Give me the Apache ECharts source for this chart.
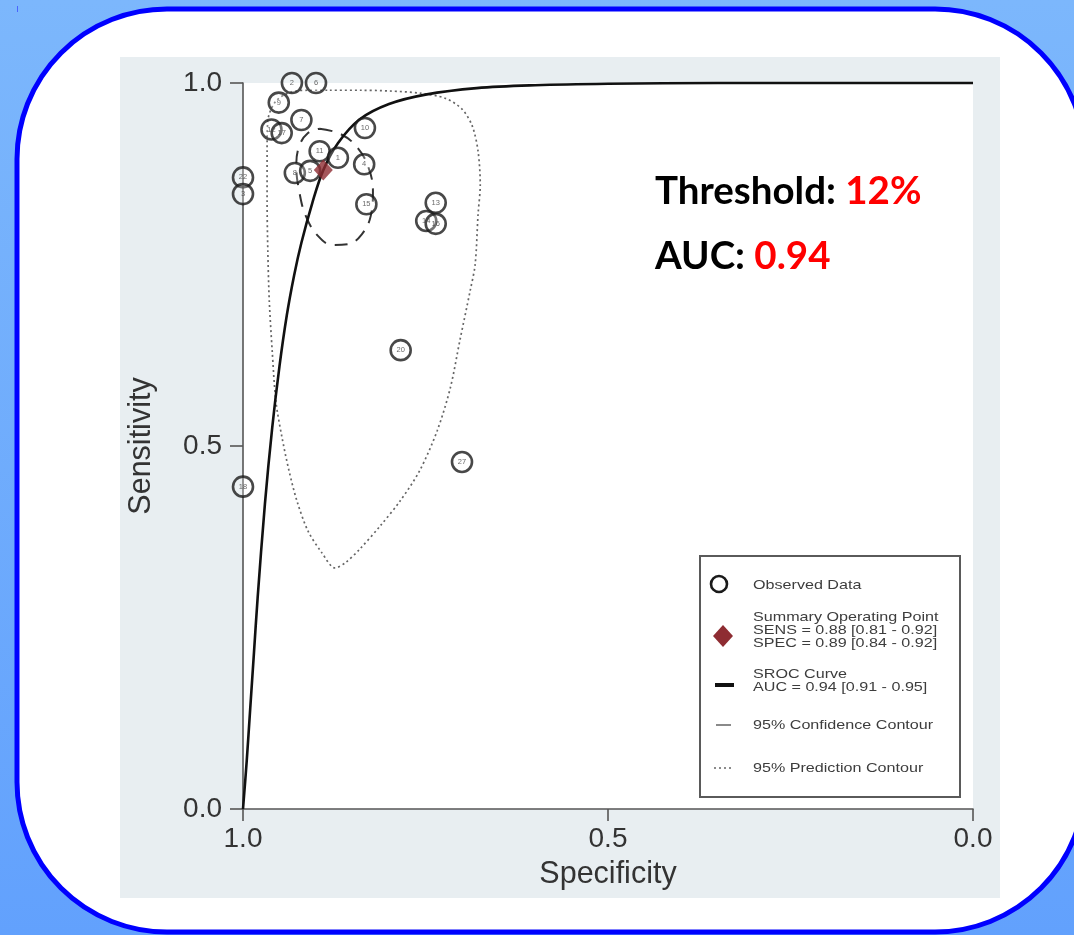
<!DOCTYPE html>
<html>
<head>
<meta charset="utf-8">
<script src="https://cdn.jsdelivr.net/npm/echarts@6/dist/echarts.min.js"></script>
<style>
  html, body { margin: 0; padding: 0; background: #fff; }
  #chart { width: 1074px; height: 935px; }
</style>
</head>
<body>
<div id="chart"></div>
<script>
// Axis ticks (both axes run 0..1 in steps of 0.5)
const xTicks = [0.0, 0.5, 1.0];
const yTicks = [0.0, 0.5, 1.0];

// Individual studies
const studyLabels = ['2', '6', '9', '7', '12', '17', '10', '11', '1', '4', '8', '5', '15', '22', '3', '18', '13', '14', '16', '20', '27'];
const studySpec   = [0.933, 0.900, 0.951, 0.920, 0.961, 0.947, 0.833, 0.895, 0.870, 0.834, 0.929, 0.908, 0.831, 1.000, 1.000, 1.000, 0.736, 0.749, 0.736, 0.784, 0.700];
const studySens   = [1.000, 1.000, 0.973, 0.949, 0.936, 0.931, 0.938, 0.906, 0.897, 0.888, 0.876, 0.879, 0.833, 0.870, 0.847, 0.444, 0.835, 0.810, 0.806, 0.632, 0.478];

// Summary operating point
const summarySpec = [0.89];
const summarySens = [0.88];

// SROC curve
const srocSpec = [1.000, 0.995, 0.990, 0.985, 0.980, 0.970, 0.960, 0.950, 0.940, 0.930, 0.920, 0.905, 0.890, 0.870, 0.840, 0.800, 0.750, 0.680, 0.600, 0.500, 0.350, 0.000];
const srocSens = [0.000, 0.065, 0.140, 0.215, 0.290, 0.420, 0.525, 0.610, 0.680, 0.735, 0.780, 0.835, 0.880, 0.917, 0.950, 0.971, 0.984, 0.993, 0.997, 0.999, 1.000, 1.000];

// 95% confidence contour around the summary point
const confSpec = [0.895, 0.867, 0.845, 0.829, 0.822, 0.825, 0.837, 0.856, 0.877, 0.897, 0.914, 0.923, 0.927, 0.923, 0.911, 0.895];
const confSens = [0.937, 0.930, 0.913, 0.886, 0.851, 0.817, 0.792, 0.778, 0.777, 0.789, 0.817, 0.851, 0.886, 0.913, 0.931, 0.937];

// 95% prediction contour
const predSpec = [0.881, 0.840, 0.799, 0.758, 0.723, 0.700, 0.686, 0.678, 0.675, 0.678, 0.682, 0.689, 0.703, 0.716, 0.734, 0.758, 0.785, 0.812, 0.840, 0.860, 0.874, 0.892, 0.911, 0.926, 0.937, 0.947, 0.955, 0.960, 0.964, 0.966, 0.967, 0.967, 0.966, 0.955, 0.933, 0.908, 0.881];
const predSens = [0.990, 0.990, 0.989, 0.986, 0.979, 0.964, 0.941, 0.906, 0.860, 0.819, 0.750, 0.713, 0.645, 0.580, 0.521, 0.466, 0.424, 0.390, 0.358, 0.339, 0.332, 0.353, 0.383, 0.424, 0.466, 0.514, 0.562, 0.631, 0.700, 0.769, 0.837, 0.906, 0.948, 0.975, 0.988, 0.990, 0.990];

// Legend entries
const legendEntries = [
  ['Observed Data'],
  ['Summary Operating Point', 'SENS = 0.88 [0.81 - 0.92]', 'SPEC = 0.89 [0.84 - 0.92]'],
  ['SROC Curve', 'AUC = 0.94 [0.91 - 0.95]'],
  ['95% Confidence Contour'],
  ['95% Prediction Contour']
];

// Headline annotations
const thresholdLabel = 'Threshold: ';
const thresholdValue = '12%';
const aucLabel = 'AUC: ';
const aucValue = '0.94';

const pairs = (xs, ys) => xs.map((x, i) => [x, ys[i]]);

const chart = echarts.init(document.getElementById('chart'), null, { renderer: 'canvas' });

const GRID = { left: 243, top: 83, width: 730, height: 726 };
const AXIS_FONT = '"Liberation Sans", Arial, Helvetica, sans-serif';
const LEGEND_FONT = '"Liberation Sans", Arial, sans-serif';
const HEAD_FONT = 'bold 38.5px Lato, "Open Sans", sans-serif';

// Legend block drawn as a graphic group
const LX = 753;
const legendTextRows = [
  { y: 585, text: legendEntries[0][0] },
  { y: 617, text: legendEntries[1][0] },
  { y: 630, text: legendEntries[1][1] },
  { y: 643, text: legendEntries[1][2] },
  { y: 674, text: legendEntries[2][0] },
  { y: 687, text: legendEntries[2][1] },
  { y: 725, text: legendEntries[3][0] },
  { y: 768, text: legendEntries[4][0] }
];

const legendChildren = [
  { type: 'rect', shape: { x: 700, y: 556, width: 260, height: 241 },
    style: { fill: '#fff', stroke: '#5a5a5a', lineWidth: 2 } },
  { type: 'circle', shape: { cx: 719, cy: 584, r: 8 },
    style: { fill: 'none', stroke: '#1a1a1a', lineWidth: 2.6 } },
  { type: 'polygon', shape: { points: [[723, 625], [733, 636], [723, 647], [713, 636]] },
    style: { fill: '#8e2c32' } },
  { type: 'line', shape: { x1: 715, y1: 685, x2: 734, y2: 685 },
    style: { stroke: '#111', lineWidth: 4 } },
  { type: 'line', shape: { x1: 716, y1: 725, x2: 731, y2: 725 },
    style: { stroke: '#8a8a8a', lineWidth: 2 } },
  { type: 'line', shape: { x1: 714, y1: 768, x2: 733, y2: 768 },
    style: { stroke: '#666', lineWidth: 1.6, lineDash: [2, 3] } }
].concat(legendTextRows.map(r => ({
  type: 'text', x: LX, y: r.y, scaleX: 1.24,
  style: { text: r.text, fill: '#3d3d3d', font: '13px ' + LEGEND_FONT,
           textAlign: 'left', textVerticalAlign: 'middle' }
})));

const option = {
  animation: false,
  graphic: {
    elements: [
      // slide background
      { type: 'rect', z: -30, shape: { x: 0, y: 0, width: 1074, height: 935 },
        style: { fill: new echarts.graphic.LinearGradient(0, 0, 0, 1, [
          { offset: 0, color: '#7cb7fc' }, { offset: 1, color: '#62a1fd' }]) } },
      { type: 'rect', z: -29, shape: { x: 17, y: 9, width: 1068, height: 923, r: 150 },
        style: { fill: '#fff', stroke: '#0000ff', lineWidth: 5 } },
      { type: 'line', z: -29, shape: { x1: 17.5, y1: 6, x2: 17.5, y2: 12 },
        style: { stroke: '#4a64ff', lineWidth: 1 } },
      // figure panel and plotting region
      { type: 'rect', z: -28, shape: { x: 120, y: 57, width: 880, height: 841 },
        style: { fill: '#e8eef1' } },
      { type: 'rect', z: -27, shape: { x: GRID.left, y: GRID.top, width: GRID.width, height: GRID.height },
        style: { fill: '#ffffff' } },
      // legend
      { type: 'group', z: 20, children: legendChildren },
      // headline text
      { type: 'text', z: 20, x: 655, y: 192,
        style: { text: '{a|' + thresholdLabel + '}{b|' + thresholdValue + '}',
          textVerticalAlign: 'middle',
          rich: { a: { fill: '#000', font: HEAD_FONT }, b: { fill: '#ff0000', font: HEAD_FONT } } } },
      { type: 'text', z: 20, x: 655, y: 257,
        style: { text: '{a|' + aucLabel + '}{b|' + aucValue + '}',
          textVerticalAlign: 'middle',
          rich: { a: { fill: '#000', font: HEAD_FONT }, b: { fill: '#ff0000', font: HEAD_FONT } } } }
    ]
  },
  grid: { left: GRID.left, top: GRID.top, width: GRID.width, height: GRID.height, containLabel: false },
  xAxis: {
    type: 'value', min: xTicks[0], max: xTicks[xTicks.length - 1], interval: xTicks[1] - xTicks[0],
    inverse: true,
    name: 'Specificity', nameLocation: 'middle', nameGap: 50,
    nameTextStyle: { fontSize: 30.5, color: '#333', fontFamily: AXIS_FONT },
    axisLine: { show: true, onZero: false, lineStyle: { color: '#555', width: 1.6 } },
    axisTick: { show: true, length: 12, lineStyle: { color: '#555', width: 1.6 } },
    axisLabel: { fontSize: 28, color: '#333', margin: 16, fontFamily: AXIS_FONT,
                 formatter: v => v.toFixed(1) },
    splitLine: { show: false }
  },
  yAxis: {
    type: 'value', min: yTicks[0], max: yTicks[yTicks.length - 1], interval: yTicks[1] - yTicks[0],
    name: 'Sensitivity', nameLocation: 'middle', nameGap: 86,
    nameTextStyle: { fontSize: 30.5, color: '#333', fontFamily: AXIS_FONT },
    axisLine: { show: true, onZero: false, lineStyle: { color: '#555', width: 1.6 } },
    axisTick: { show: true, length: 13, lineStyle: { color: '#555', width: 1.6 } },
    axisLabel: { fontSize: 28, color: '#333', margin: 21, fontFamily: AXIS_FONT,
                 formatter: v => v.toFixed(1) },
    splitLine: { show: false }
  },
  series: [
    {
      name: '95% Prediction Contour', type: 'line', z: 3, clip: false,
      data: pairs(predSpec, predSens), showSymbol: false, smooth: 0.3,
      lineStyle: { color: '#666', width: 1.7, type: [2, 3] }
    },
    {
      name: '95% Confidence Contour', type: 'line', z: 3, clip: false,
      data: pairs(confSpec, confSens), showSymbol: false, smooth: 0.4,
      lineStyle: { color: '#333', width: 2, type: [13, 9] }
    },
    {
      name: 'SROC Curve', type: 'line', z: 4, clip: false,
      data: pairs(srocSpec, srocSens), showSymbol: false, smooth: 0.35,
      lineStyle: { color: '#111', width: 2.6 }
    },
    {
      name: 'Observed Data', type: 'scatter', z: 5, clip: false,
      data: studySpec.map((s, i) => ({ name: studyLabels[i], value: [s, studySens[i]] })),
      symbol: 'circle', symbolSize: 20,
      itemStyle: { color: 'rgba(255,255,255,0.3)', borderColor: '#1a1a1a', borderWidth: 2.6 },
      label: { show: true, position: 'inside', formatter: '{b}', fontSize: 7.5, color: '#444',
               fontFamily: AXIS_FONT }
    },
    {
      name: 'Summary Operating Point', type: 'scatter', z: 6, clip: false,
      data: pairs(summarySpec, summarySens),
      symbol: 'diamond', symbolSize: [19, 21],
      itemStyle: { color: '#8e2c32' }
    }
  ]
};

chart.setOption(option);
</script>
</body>
</html>
